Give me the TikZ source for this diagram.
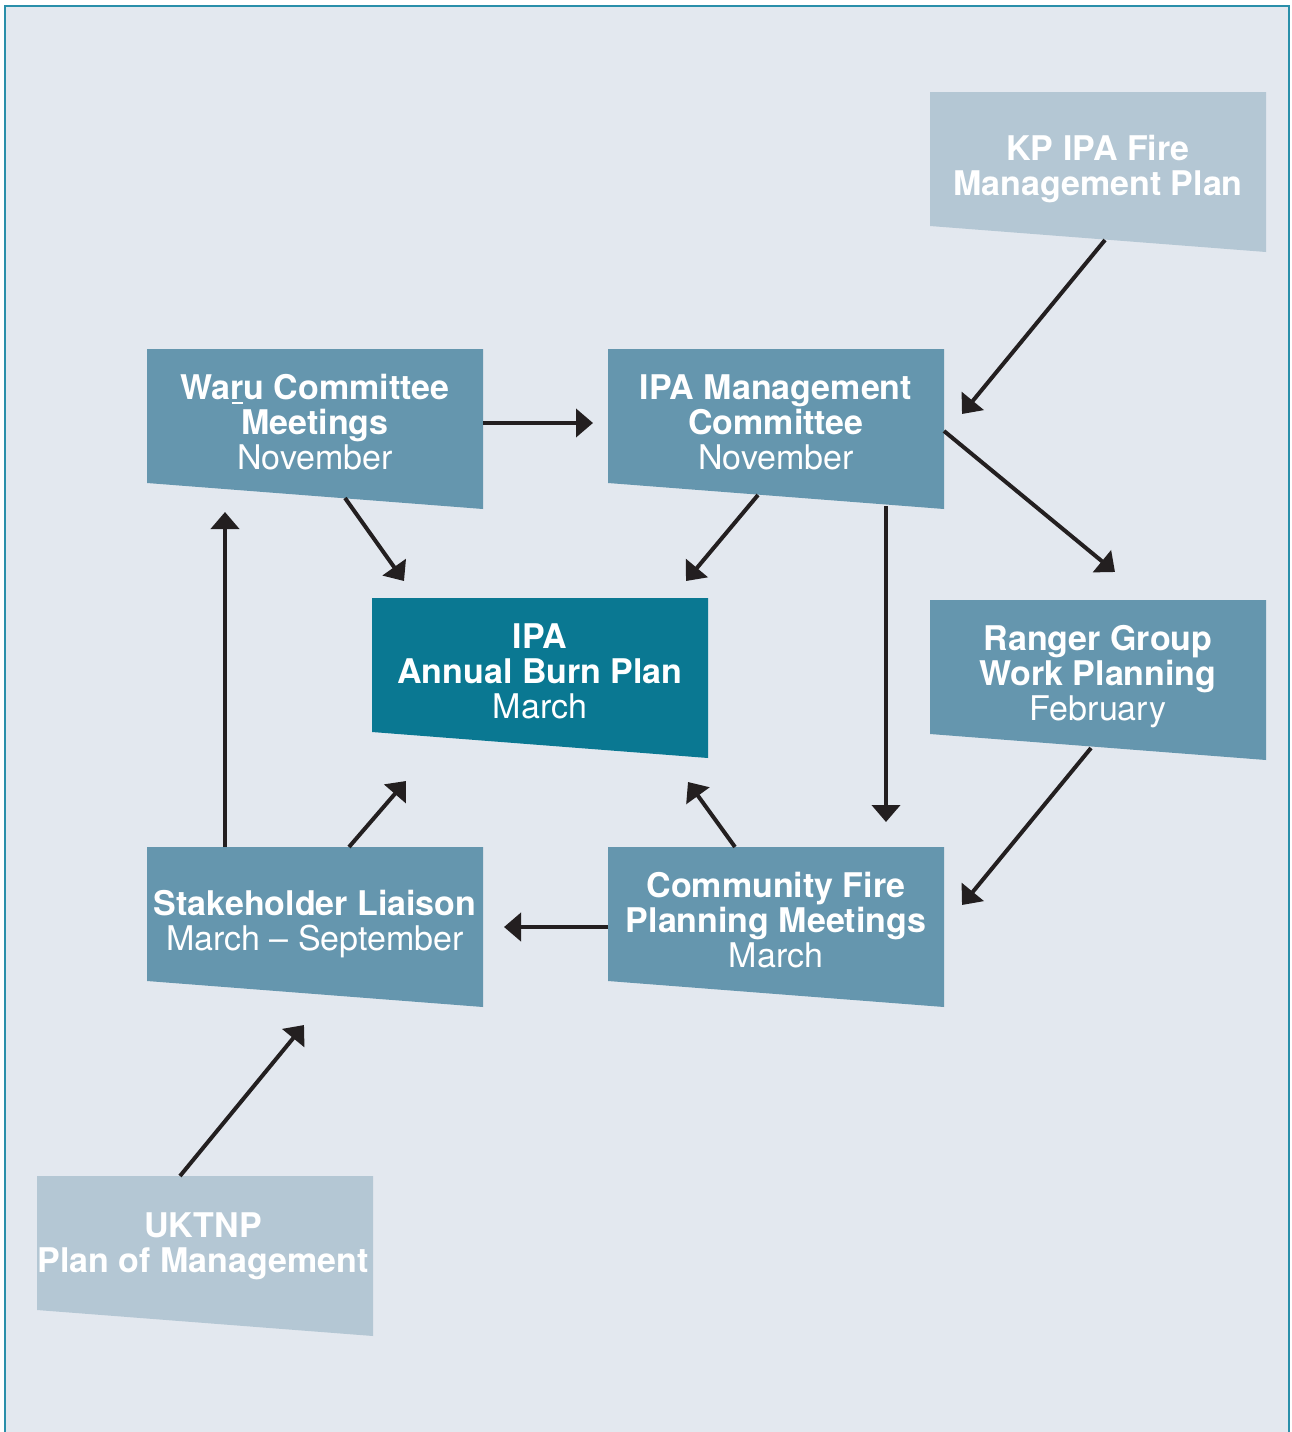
\documentclass[tikz,border=0pt]{standalone}
\usepackage{fontspec}
\setmainfont{TeX Gyre Heros}
\usetikzlibrary{arrows.meta,calc}
\definecolor{bgc}{HTML}{E3E8EF}
\definecolor{framec}{HTML}{2A8FAA}
\definecolor{lightc}{HTML}{B4C7D4}
\definecolor{midc}{HTML}{6596AE}
\definecolor{darkc}{HTML}{0A7892}
\definecolor{arrowc}{HTML}{231F20}
\tikzset{
  box/.style={rectangle, minimum width=336pt, minimum height=134pt, inner sep=0pt, outer sep=0pt},
  txt/.style={text=white, align=center, font=\fontsize{34}{35}\selectfont, text depth=0pt, inner sep=0pt},
  arr/.style={line width=4pt, draw=arrowc, -{Triangle[length=17pt,width=28pt]}},
}
\newcommand\tailfill[2]{\fill[#2] (#1.north west) -- (#1.north east) -- ($(#1.south east)+(0,26)$) -- (#1.south west) -- cycle;}
\newcommand\ulr[1]{\mbox{\rlap{\hspace{1pt}\rule[-4.5pt]{11pt}{2pt}}#1}}
\begin{document}
\begin{tikzpicture}[x=1pt,y=-1pt]
\useasboundingbox (0,0) rectangle (1292,1432);
\fill[white] (0,0) rectangle (1292,1432);
\fill[bgc] (5,6) rectangle (1289,1432);
\draw[framec, line width=2pt] (5,1432) -- (5,6) -- (1289,6) -- (1289,1432);

% boxes
\node[box] (kp) at (1098,159) {};
\node[box] (waru) at (315,416) {};
\node[box] (ipam) at (776,416) {};
\node[box] (abp) at (540,665) {};
\node[box] (ranger) at (1098,667) {};
\node[box] (stake) at (315,914) {};
\node[box] (comm) at (776,914) {};
\node[box] (uk) at (205,1243) {};

\tailfill{kp}{lightc}
\tailfill{waru}{midc}
\tailfill{ipam}{midc}
\tailfill{abp}{darkc}
\tailfill{ranger}{midc}
\tailfill{stake}{midc}
\tailfill{comm}{midc}
\tailfill{uk}{lightc}

% texts
\node[txt] (kpt) at ($(kp)+(0,6)$) {\textbf{KP IPA Fire}\\\textbf{Management Plan}};
\node[txt] (warut) at ($(waru)+(0,6)$) {\textbf{Wa\ulr{r}u Committee}\\\textbf{Meetings}\\November};
\node[txt] (ipamt) at ($(ipam)+(0,6)$) {\textbf{IPA Management}\\\textbf{Committee}\\November};
\node[txt] (abpt) at ($(abp)+(0,6)$) {\textbf{IPA}\\\textbf{Annual Burn Plan}\\March};
\node[txt] (rangert) at ($(ranger)+(0,6)$) {\textbf{Ranger Group}\\\textbf{Work Planning}\\February};
\node[txt] (staket) at ($(stake)+(0,6)$) {\textbf{Stakeholder Liaison}\\March – September};
\node[txt] (commt) at ($(comm)+(0,6)$) {\textbf{Community Fire}\\\textbf{Planning Meetings}\\March};
\node[txt] (ukt) at ($(uk)+(-2,0)$) {\textbf{UKTNP}\\\textbf{Plan of Management}};

% connectors
\draw[arr] ($(kp.south)+(7,14)$) -- ($(ipam.east)+(18,-2)$);
\draw[arr] ($(waru.east)+(0,7)$) -- ($(ipam.west)+(-15,7)$);
\draw[arr] ($(ipam.east)+(0,15)$) -- ($(ranger.north)+(17,-28)$);
\draw[arr] ($(waru.south)+(30,15)$) -- ($(abp.north west)+(32,-17)$);
\draw[arr] ($(ipam.south)+(-18,12)$) -- ($(abp.north east)+(-22,-17)$);
\draw[arr] ($(ipam.south)+(110,23)$) -- ($(comm.north)+(110,-25)$);
\draw[arr] ($(ranger.south)+(-7,14)$) -- ($(comm.east)+(18,-9)$);
\draw[arr] ($(comm.north)+(-41,0)$) -- ($(abp.south east)+(-20,50)$);
\draw[arr] ($(comm.west)+(0,13)$) -- ($(stake.east)+(21,13)$);
\draw[arr] ($(stake.north)+(34,0)$) -- ($(abp.south west)+(34,49)$);
\draw[arr] ($(stake.north)+(-90,0)$) -- ($(waru.south)+(-90,29)$);
\draw[arr] ($(uk.north)+(-25,0)$) -- ($(stake.south)+(-11,44)$);
\end{tikzpicture}
\end{document}
